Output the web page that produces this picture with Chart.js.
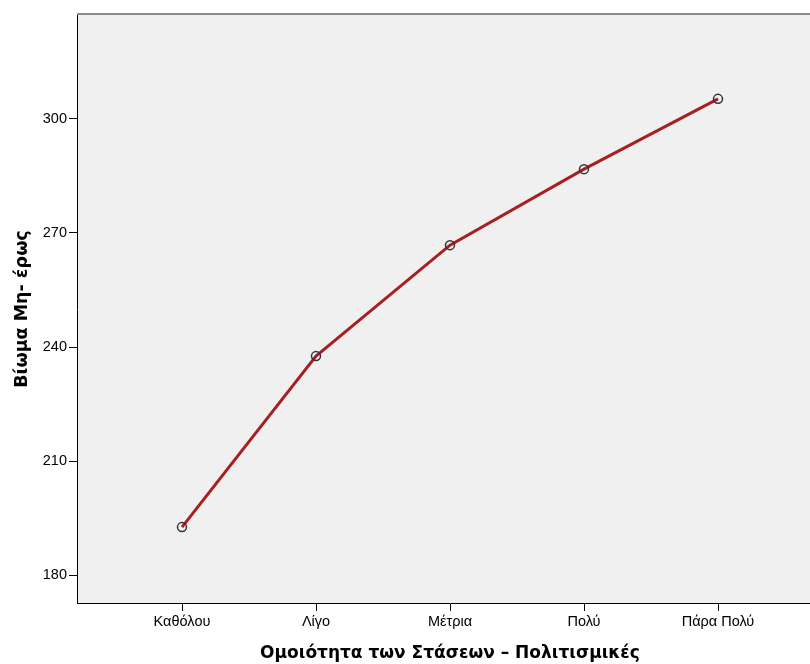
<!DOCTYPE html>
<html>
<head>
<meta charset="utf-8">
<script src="https://cdn.jsdelivr.net/npm/chart.js@4"></script>
<style>
html,body{margin:0;padding:0;background:#fff;overflow:hidden;}
#wrap{width:810px;height:664px;position:relative;overflow:hidden;}
#c{position:absolute;left:0;top:0;}
</style>
</head>
<body>
<div id="wrap"><canvas id="c" width="823" height="664"></canvas></div>
<script>
const categories = ["Καθόλου", "Λίγο", "Μέτρια", "Πολύ", "Πάρα Πολύ"];
const values = [192.6, 237.6, 266.8, 286.8, 305.3];
const yTicks = [180, 210, 240, 270, 300];
const xTitle = "Ομοιότητα των Στάσεων – Πολιτισμικές";
const yTitle = "Βίωμα Μη- έρως";

const FONT = "'Liberation Sans', Arial, sans-serif";
const TFONT = "'DejaVu Sans', Verdana, sans-serif";

const bgPlugin = {
  id: 'bg',
  beforeDraw(chart) {
    const {ctx, chartArea: a} = chart;
    ctx.save();
    ctx.fillStyle = '#f0f0f0';
    ctx.fillRect(a.left, a.top, a.right - a.left, a.bottom - a.top);
    ctx.strokeStyle = '#8c8c8c';
    ctx.lineWidth = 2;
    ctx.beginPath();
    ctx.moveTo(a.left, a.top - 1);
    ctx.lineTo(a.right, a.top - 1);
    ctx.stroke();
    ctx.restore();
  }
};

new Chart(document.getElementById('c'), {
  type: 'line',
  data: {
    datasets: [{
      data: values.map((v, i) => ({x: i + 1, y: v})),
      borderColor: '#a81f22',
      borderWidth: 3,
      pointRadius: 4.5,
      pointBorderColor: '#333333',
      pointBorderWidth: 1.5,
      pointBackgroundColor: 'rgba(0,0,0,0)',
      tension: 0
    }]
  },
  options: {
    responsive: false,
    animation: false,
    layout: {autoPadding: false, padding: {top: 15, right: 0, left: 0, bottom: 0}},
    plugins: {legend: {display: false}, tooltip: {enabled: false}},
    scales: {
      x: {
        type: 'linear',
        min: 1 - 105 / 134,
        max: 5 + 105 / 134,
        afterBuildTicks(s) { s.ticks = categories.map((c, i) => ({value: i + 1})); },
        afterFit(s) { s.height = 61; s.paddingLeft = 0; s.paddingRight = 0; },
        ticks: {
          callback: (v) => categories[v - 1] || '',
          color: '#000', font: {family: FONT, size: 14.5}, padding: 2, maxRotation: 0, autoSkip: false
        },
        grid: {drawOnChartArea: false, drawTicks: true, tickLength: 8, color: '#000'},
        border: {display: true, color: '#000', width: 1},
        title: {display: true, text: xTitle, color: '#000', font: {family: TFONT, size: 17, weight: 'bold', lineHeight: 1}, padding: {top: 0, bottom: 2}}
      },
      y: {
        type: 'linear',
        min: 180 - 28 / 3.8,
        max: 300 + 104 / 3.8,
        afterBuildTicks(s) { s.ticks = yTicks.map(v => ({value: v})); },
        afterFit(s) { s.width = 77; s.paddingTop = 0; s.paddingBottom = 0; },
        ticks: {color: '#000', font: {family: FONT, size: 14.5}, padding: 2},
        grid: {drawOnChartArea: false, drawTicks: true, tickLength: 8, color: '#000'},
        border: {display: true, color: '#000', width: 1},
        title: {display: true, text: yTitle, color: '#000', font: {family: TFONT, size: 17.5, weight: 'bold', lineHeight: 1}, padding: {top: 14, bottom: 0}}
      }
    }
  },
  plugins: [bgPlugin]
});
</script>
</body>
</html>
